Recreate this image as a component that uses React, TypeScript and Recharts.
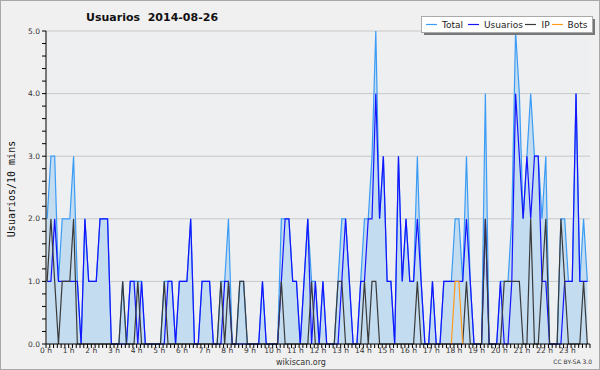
import React from 'react';
import { ComposedChart, Area, Line, XAxis, YAxis, CartesianGrid } from 'recharts';

// 10-minute slots, 0:00 .. 23:50
const total = [
  2, 3, 3, 1, 2, 2, 2, 3, 1, 0, 2, 1, 1, 1, 2, 2, 2, 0, 0, 0, 1, 0, 1, 1,
  1, 1, 0, 0, 0, 0, 0, 1, 1, 1, 0, 1, 1, 1, 2, 0, 0, 1, 1, 1, 0, 0, 1, 1,
  2, 0, 0, 1, 1, 0, 0, 0, 0, 1, 0, 0, 0, 0, 2, 2, 2, 1, 1, 0, 1, 2, 1, 1,
  0, 1, 0, 0, 0, 1, 2, 2, 1, 0, 0, 1, 2, 2, 3, 5, 2, 3, 1, 1, 0, 3, 1, 2,
  1, 1, 3, 1, 0, 0, 1, 0, 0, 1, 1, 1, 2, 2, 1, 3, 1, 0, 0, 0, 4, 0, 0, 0,
  1, 1, 1, 2, 5, 4, 2, 3, 4, 3, 3, 2, 3, 0, 0, 0, 2, 2, 1, 1, 4, 1, 2, 1,
];
const usuarios = [
  1, 1, 2, 1, 1, 1, 1, 1, 1, 0, 2, 1, 1, 1, 2, 2, 2, 0, 0, 0, 0, 0, 1, 1,
  0, 1, 0, 0, 0, 0, 0, 0, 1, 1, 0, 1, 1, 1, 2, 0, 0, 1, 1, 1, 0, 0, 0, 1,
  1, 0, 0, 0, 0, 0, 0, 0, 0, 1, 0, 0, 0, 0, 1, 2, 2, 1, 1, 0, 1, 2, 0, 1,
  0, 1, 0, 0, 0, 0, 1, 2, 1, 0, 0, 1, 1, 2, 2, 4, 2, 3, 1, 1, 0, 3, 1, 2,
  1, 1, 2, 1, 0, 0, 1, 0, 0, 1, 1, 1, 1, 1, 1, 2, 1, 0, 0, 0, 2, 0, 0, 0,
  1, 0, 0, 1, 4, 3, 2, 3, 2, 3, 3, 1, 1, 0, 0, 0, 0, 1, 1, 1, 4, 1, 1, 1,
];
const ip = [
  1, 2, 1, 0, 1, 1, 1, 2, 0, 0, 0, 0, 0, 0, 0, 0, 0, 0, 0, 0, 1, 0, 0, 0,
  1, 0, 0, 0, 0, 0, 0, 1, 0, 0, 0, 0, 0, 0, 0, 0, 0, 0, 0, 0, 0, 0, 1, 0,
  1, 0, 0, 1, 1, 0, 0, 0, 0, 0, 0, 0, 0, 0, 1, 0, 0, 0, 0, 0, 0, 0, 1, 0,
  0, 0, 0, 0, 0, 1, 1, 0, 0, 0, 0, 0, 1, 0, 1, 1, 0, 0, 0, 0, 0, 0, 0, 0,
  0, 0, 1, 0, 0, 0, 0, 0, 0, 0, 0, 0, 0, 0, 0, 1, 0, 0, 0, 0, 2, 0, 0, 0,
  0, 1, 1, 1, 1, 1, 0, 0, 2, 0, 0, 1, 2, 0, 0, 0, 2, 1, 0, 0, 0, 0, 1, 0,
];
const bots = [
  0, 0, 0, 0, 0, 0, 0, 0, 0, 0, 0, 0, 0, 0, 0, 0, 0, 0, 0, 0, 0, 0, 0, 0,
  0, 0, 0, 0, 0, 0, 0, 0, 0, 0, 0, 0, 0, 0, 0, 0, 0, 0, 0, 0, 0, 0, 0, 0,
  0, 0, 0, 0, 0, 0, 0, 0, 0, 0, 0, 0, 0, 0, 0, 0, 0, 0, 0, 0, 0, 0, 0, 0,
  0, 0, 0, 0, 0, 0, 0, 0, 0, 0, 0, 0, 0, 0, 0, 0, 0, 0, 0, 0, 0, 0, 0, 0,
  0, 0, 0, 0, 0, 0, 0, 0, 0, 0, 0, 0, 1, 1, 0, 0, 0, 0, 0, 0, 0, 0, 0, 0,
  0, 0, 0, 0, 0, 0, 0, 0, 0, 0, 0, 0, 0, 0, 0, 0, 0, 0, 0, 0, 0, 0, 0, 0,
];
const hourLabels = [
  '0 h', '1 h', '2 h', '3 h', '4 h', '5 h', '6 h', '7 h', '8 h', '9 h', '10 h', '11 h',
  '12 h', '13 h', '14 h', '15 h', '16 h', '17 h', '18 h', '19 h', '20 h', '21 h', '22 h', '23 h',
];
const yTickValues = [0, 0.2, 0.4, 0.6, 0.8, 1, 1.2, 1.4, 1.6, 1.8, 2, 2.2, 2.4, 2.6, 2.8, 3, 3.2, 3.4, 3.6, 3.8, 4, 4.2, 4.4, 4.6, 4.8, 5];
const gridValues = [1, 2, 3, 4, 5];
const legendItems = [
  { name: 'Total', color: '#3a9cf5' },
  { name: 'Usuarios', color: '#1414ff' },
  { name: 'IP', color: '#3a3a3a' },
  { name: 'Bots', color: '#ff9a1a' },
];

const SHIFT = 0.3;
const data = total.map((t, i) => {
  const showBot = bots[i] > 0 || (i > 0 && bots[i - 1] > 0) || (i < bots.length - 1 && bots[i + 1] > 0);
  return { x: i, total: t, usuarios: usuarios[i], ip: ip[i], bots: showBot ? bots[i] : null };
});
const xTicks = Array.from({ length: 145 }, (_, s) => s - SHIFT);
const xFmt = (v: number) => {
  const s = Math.round(v + SHIFT);
  return s % 6 === 0 && s / 6 < hourLabels.length ? hourLabels[s / 6] : '';
};
const yFmt = (v: number) => (Math.abs(v - Math.round(v)) < 1e-6 ? v.toFixed(1) : '');

const tickStyle = { fontSize: 7.5, fontFamily: 'DejaVu Sans', fill: '#333' };

export default function App() {
  return (
    <div style={{ position: 'absolute', left: 0, top: 0, width: 600, height: 370, background: '#f0f0f0' }}>
      <ComposedChart width={600} height={370} data={data} margin={{ top: 31, right: 10, bottom: 0, left: 0 }}>
        <CartesianGrid horizontal={true} vertical={false} horizontalValues={gridValues} stroke="#c9c9c9" fill="#eeeff1" />
        <Area type="linear" dataKey="total" stroke="#3a9cf5" strokeWidth={1.2} fill="#c4dcf0" fillOpacity={1} isAnimationActive={false} dot={false} activeDot={false} />
        <Line type="linear" dataKey="usuarios" stroke="#1414ff" strokeWidth={1.2} dot={false} activeDot={false} isAnimationActive={false} />
        <Line type="linear" dataKey="ip" stroke="#3a3a3a" strokeWidth={1.2} dot={false} activeDot={false} isAnimationActive={false} />
        <Line type="linear" dataKey="bots" stroke="#ff9a1a" strokeWidth={1.2} dot={false} activeDot={false} connectNulls={false} isAnimationActive={false} />
        <XAxis dataKey="x" type="number" domain={[-SHIFT, 144 - SHIFT]} ticks={xTicks} interval={0} tickFormatter={xFmt}
          height={26} tickSize={4} tickMargin={0} axisLine={{ stroke: '#000' }} tickLine={{ stroke: '#000' }} tick={tickStyle} allowDataOverflow />
        <YAxis type="number" domain={[0, 5]} ticks={yTickValues} interval={0} tickFormatter={yFmt} width={46}
          tickSize={4} tickMargin={2} axisLine={{ stroke: '#000' }} tickLine={{ stroke: '#000' }} tick={tickStyle} />
      </ComposedChart>
      <svg width={600} height={370} style={{ position: 'absolute', left: 0, top: 0, pointerEvents: 'none' }}>
        <rect x={0.5} y={0.5} width={599} height={369} fill="none" stroke="#a8a8a8" />
        <text x={86} y={21} style={{ whiteSpace: 'pre' }} fontFamily="DejaVu Sans" fontWeight="bold" fontSize={11} fill="#111">Usuarios  2014-08-26</text>
        <text transform="translate(14.5,189) rotate(-90)" textAnchor="middle" fontFamily="DejaVu Sans Mono" fontSize={10} fill="#111">Usuarios/10 mins</text>
        <text x={301} y={364.5} textAnchor="middle" fontFamily="DejaVu Sans" fontSize={8} fill="#333">wikiscan.org</text>
        <text x={592} y={364} textAnchor="end" fontFamily="DejaVu Sans" fontSize={6} fill="#333">CC BY-SA 3.0</text>
        <rect x={424} y={19} width={171} height={16} fill="#777" />
        <rect x={421.5} y={16.5} width={171} height={16} fill="#fff" stroke="#aaa" />
        {legendItems.map((it, k) => {
          const lx = [426, 468, 525, 552][k];
          const tx = [442, 484, 541.5, 567.5][k];
          return (
            <g key={it.name}>
              <line x1={lx} x2={lx + 11} y1={24.5} y2={24.5} stroke={it.color} strokeWidth={1.2} />
              <text x={tx} y={28} fontFamily="DejaVu Sans" fontSize={9} fill="#222">{it.name}</text>
            </g>
          );
        })}
      </svg>
    </div>
  );
}
